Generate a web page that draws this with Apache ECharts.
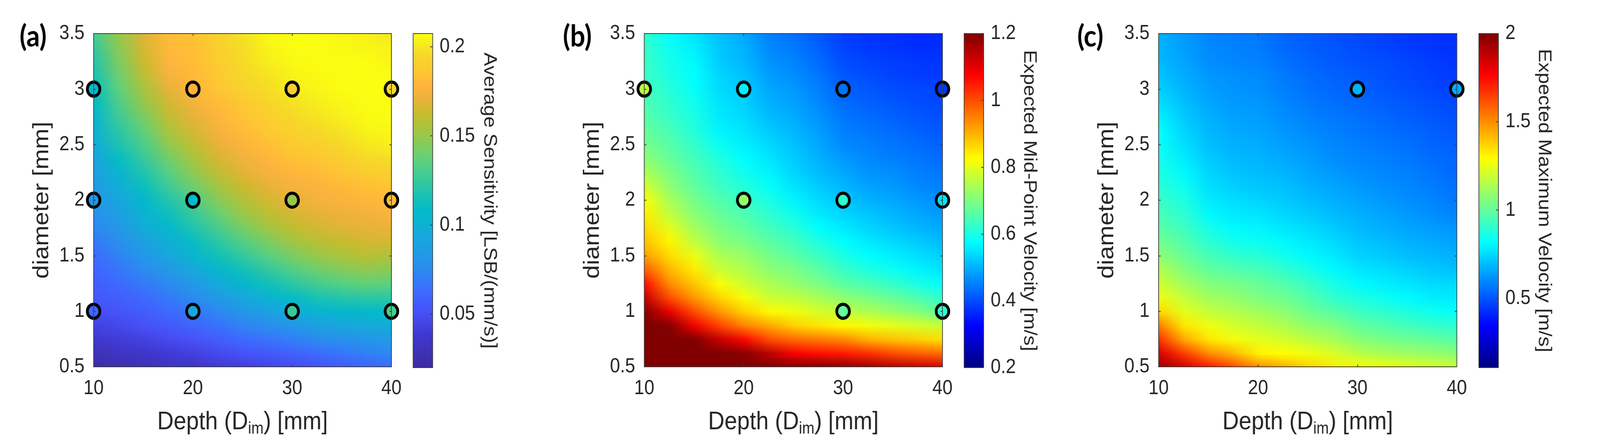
<!DOCTYPE html>
<html><head><meta charset="utf-8">
<style>html,body{margin:0;padding:0;background:#fff;overflow:hidden}#c{width:4582px;height:1148px;transform-origin:0 0}</style>
<script src="https://cdn.jsdelivr.net/npm/echarts@6/dist/echarts.min.js"></script>
</head><body><div id="c"></div>
<script>
// Axis samples
const depths = [10,12.5,15,17.5,20,22.5,25,27.5,30,32.5,35,37.5,40];
const diameters = [0.5,0.625,0.75,0.875,1,1.125,1.25,1.375,1.5,1.625,1.75,1.875,2,2.125,2.25,2.375,2.5,2.625,2.75,2.875,3,3.125,3.25,3.375,3.5];

// Values, x1000. One line per depth, diameter rising left to right.
const sensitivityGrid = [
[22,30,38,44,50,54,57,60,63,68,73,78,83,86,89,92,95,100,105,108,112,116,120,125,130],
[26,34,41,47,53,57,62,67,72,77,83,87,92,97,103,110,117,122,127,132,136,140,144,147,150],
[29,36,44,51,57,62,68,75,82,89,96,101,106,112,118,125,131,137,143,149,154,159,163,166,168],
[32,40,48,55,62,68,75,84,92,98,105,112,119,127,134,141,148,155,160,165,170,175,178,180,181],
[35,43,52,60,68,76,84,93,103,110,118,125,132,140,148,154,160,165,170,174,178,180,182,183,184],
[39,48,57,65,74,84,95,105,114,122,130,138,146,153,160,166,171,175,178,181,185,187,189,191,192],
[42,52,62,72,82,93,104,114,124,133,142,150,157,163,169,173,177,181,184,187,192,194,196,197,199],
[45,55,66,77,89,101,113,124,134,143,152,159,165,170,175,178,183,187,190,193,197,199,202,204,206],
[48,59,70,83,96,109,122,133,143,152,160,166,171,175,178,183,188,192,195,198,202,204,206,207,207],
[52,63,75,89,102,116,129,140,150,158,165,170,174,177,181,186,191,195,199,202,205,206,207,207,207],
[56,67,79,92,106,120,134,145,155,162,168,172,176,180,185,190,195,199,203,205,207,207,207,206,205],
[60,71,82,94,107,122,137,148,158,165,170,174,178,183,189,195,200,204,206,207,207,207,207,205,203],
[63,74,85,97,109,122,136,146,156,165,172,176,180,185,191,197,203,205,207,207,207,207,205,203,200]
];
const midVelocityGrid = [
[1200,1200,1200,1200,1195,1130,1060,985,920,885,860,840,820,780,745,715,690,675,660,650,640,635,630,625,620],
[1200,1200,1200,1195,1095,1000,935,895,860,835,800,765,740,715,695,675,660,645,630,620,610,600,595,585,580],
[1200,1200,1200,1085,1000,925,880,845,805,765,735,710,690,670,655,640,625,610,600,590,580,575,570,560,550],
[1200,1200,1130,1010,925,865,820,775,745,715,695,675,655,635,620,605,585,565,555,550,540,535,525,520,515],
[1200,1190,1070,945,870,820,775,750,725,695,670,650,630,610,590,575,560,550,540,530,525,515,505,500,490],
[1200,1140,1000,910,830,775,745,715,690,665,640,620,600,580,565,550,540,525,510,500,490,480,470,460,450],
[1200,1080,970,870,810,765,720,695,665,640,615,590,565,550,535,525,515,505,495,485,475,465,455,445,435],
[1200,1060,955,850,785,740,695,665,635,605,575,555,540,525,510,500,490,480,470,460,450,440,430,420,410],
[1190,1050,940,830,765,715,665,630,600,575,555,535,520,505,490,475,460,450,440,430,420,410,400,390,385],
[1170,1030,900,815,745,695,645,605,575,555,535,520,500,485,470,460,450,440,430,420,410,400,390,380,375],
[1150,1000,885,800,725,675,625,585,560,540,520,505,490,475,465,450,440,430,420,410,400,390,385,375,370],
[1130,980,870,785,705,650,600,565,545,525,505,490,475,460,450,440,430,420,410,400,395,385,380,370,365],
[1110,970,855,770,670,620,575,550,530,510,490,475,465,450,440,430,420,410,400,395,390,380,375,370,365]
];
const maxVelocityGrid = [
[1950,1830,1670,1530,1360,1260,1200,1150,1080,1030,980,950,920,890,870,850,830,820,790,760,730,710,690,680,670],
[1850,1650,1450,1330,1240,1180,1120,1060,1010,970,930,900,870,840,810,780,760,740,720,700,680,665,650,640,630],
[1720,1500,1330,1260,1180,1120,1060,1000,950,900,860,810,780,760,740,720,700,685,670,655,640,625,610,600,590],
[1620,1420,1270,1210,1150,1090,1040,970,910,850,810,780,755,730,710,690,675,660,645,630,620,610,595,585,575],
[1500,1310,1240,1180,1120,1050,1010,950,890,840,800,770,740,715,695,680,665,650,635,625,610,600,585,575,565],
[1440,1290,1210,1140,1080,1020,970,910,850,810,775,745,720,700,680,660,640,625,610,595,580,570,555,540,530],
[1370,1260,1170,1090,1020,970,920,860,810,780,750,720,695,675,655,635,620,600,585,570,555,545,530,520,510],
[1320,1220,1130,1060,980,910,860,810,780,750,720,695,670,650,630,610,595,580,565,550,535,525,510,500,490],
[1280,1160,1070,1000,930,870,810,775,740,715,690,670,650,630,610,595,580,565,550,535,520,510,495,485,475],
[1270,1130,1040,970,900,840,790,755,720,695,670,650,630,610,595,580,565,550,535,520,505,495,485,470,460],
[1240,1110,1020,940,870,810,770,735,700,675,650,630,610,595,580,565,550,535,520,505,490,480,470,455,445],
[1220,1090,1000,915,840,785,750,715,685,660,635,610,590,575,560,545,530,520,505,490,475,465,455,440,435],
[1200,1070,980,895,820,780,750,700,670,645,620,590,565,550,540,530,520,505,490,475,460,450,440,435,430]
];

// Circled measurements: [depth, diameter, value x1000]
const sensitivityPoints = [[10,3,105],[20,3,177],[30,3,190],[40,3,195],[10,2,83],[20,2,107],[30,2,150],[40,2,182],[10,1,60],[20,1,90],[30,1,125],[40,1,130]];
const midVelocityPoints = [[10,3,760],[20,3,560],[30,3,435],[40,3,380],[20,2,720],[30,2,620],[40,2,550],[30,1,670],[40,1,620]];
const maxVelocityPoints = [[30,3,670],[40,3,660]];

// Colorbars
const sensitivityRange = [0.02,0.2074];
const midVelocityRange = [0.2,1.2];
const maxVelocityRange = [0.107,2];
const sensitivityTicks = [0.05,0.1,0.15,0.2];
const midVelocityTicks = [0.2,0.4,0.6,0.8,1,1.2];
const maxVelocityTicks = [0.5,1,1.5,2];
const sensitivityColors = ['#3c2ca0','#4038d0','#4850f8','#3c6cff','#2c8cf0','#18a8dc','#00bcc8','#32c8a0','#5cd27e','#98c84a','#c8bc2c','#e6b23a','#ffb33e','#ffc433','#f5dc28','#fbff10'];
const sensitivityStops = [0,0.1,0.164,0.229,0.294,0.39,0.472,0.553,0.618,0.694,0.76,0.8,0.839,0.878,0.943,1];
const jetColors = ['#000080','#0000ff','#00ffff','#ffff00','#ff0000','#800000'];
const jetStops = [0,0.125,0.375,0.625,0.875,1];

// Titles
const panelLabels = ['(a)','(b)','(c)'];
const colorbarTitles = ['Average Sensitivity [LSB/(mm/s)]','Expected Mid-Point Velocity [m/s]','Expected Maximum Velocity [m/s]'];
const xTitle = '{t|Depth (D}{s|im}{t|) [mm]}';
const yTitle = 'diameter [mm]';

// Layout
const plotTop = 86, plotH = 854, barTop = 86, barH = 856, barW = 56;
const panels = [
 {grid:sensitivityGrid, pts:sensitivityPoints, range:sensitivityRange, ticks:sensitivityTicks, colors:sensitivityColors, stops:sensitivityStops, left:268, width:853, barLeft:1183, labelLeft:56, nameGap:136},
 {grid:midVelocityGrid, pts:midVelocityPoints, range:midVelocityRange, ticks:midVelocityTicks, colors:jetColors, stops:jetStops, left:1845, width:854, barLeft:2761, labelLeft:1612, nameGap:104},
 {grid:maxVelocityGrid, pts:maxVelocityPoints, range:maxVelocityRange, ticks:maxVelocityTicks, colors:jetColors, stops:jetStops, left:3318, width:854, barLeft:4235, labelLeft:3085, nameGap:104}
];

const FONT = 'Liberation Sans', INK = '#262626', EDGE = '#3a3a3a';
const box = document.getElementById('c');
// The browser may open narrower than the 4582 px figure: fit the figure's width to the window.
if (window.innerWidth < 4582) box.style.transform = 'scaleX(' + (window.innerWidth/4582) + ')';
const chart = echarts.init(box, null, {renderer:'canvas', width:4582, height:1148});
const opt = {animation:false, backgroundColor:'#fff', title:[], grid:[], xAxis:[], yAxis:[], series:[], visualMap:[]};

// visualMap colour lists are evenly spaced; sample the colorbar's stops onto such a list
function denseRamp(colors, stops){
  const out = [], N = 128;
  for (let i=0;i<=N;i++){
    const f = i/N; let k = 0;
    while (k < stops.length-2 && f > stops[k+1]) k++;
    out.push(echarts.color.lerp((f-stops[k])/(stops[k+1]-stops[k]), [colors[k], colors[k+1]]));
  }
  return out;
}
function plainAxis(extra){
  return Object.assign({type:'value', z:5, silent:true, splitLine:{show:false}, axisLabel:{show:false},
    axisLine:{show:true, onZero:false, lineStyle:{color:EDGE, width:2}},
    axisTick:{show:true, inside:true, length:6, lineStyle:{color:EDGE, width:2}}}, extra);
}

panels.forEach((p, k) => {
  const gi = opt.grid.length;
  opt.grid.push({left:p.left, top:plotTop, width:p.width, height:plotH});
  opt.grid.push({left:p.barLeft, top:barTop, width:barW, height:barH});
  const xi = opt.xAxis.length, yi = opt.yAxis.length;

  opt.xAxis.push(plainAxis({gridIndex:gi, min:10, max:40, interval:10, position:'bottom',
    name:xTitle, nameLocation:'middle', nameGap:104,
    nameTextStyle:{rich:{t:{fontFamily:FONT, fontSize:65, color:INK}, s:{fontFamily:FONT, fontSize:42, color:INK, padding:[34,0,0,0]}}},
    axisLabel:{show:true, fontFamily:FONT, fontSize:52, color:INK, margin:30}}));
  opt.xAxis.push(plainAxis({gridIndex:gi, min:10, max:40, interval:10, position:'top'}));
  opt.yAxis.push(plainAxis({gridIndex:gi, min:0.5, max:3.5, interval:0.5, position:'left',
    name:yTitle, nameLocation:'middle', nameGap:116, nameRotate:90,
    nameTextStyle:{fontFamily:FONT, fontSize:63, color:INK},
    axisLabel:{show:true, fontFamily:FONT, fontSize:52, color:INK, margin:26, padding:[12,0,0,0]}}));
  opt.yAxis.push(plainAxis({gridIndex:gi, min:0.5, max:3.5, interval:0.5, position:'right'}));

  const bar = {type:'value', silent:true, z:6, splitLine:{show:false}, axisTick:{show:false}, axisLabel:{show:false},
    axisLine:{show:true, onZero:false, lineStyle:{color:EDGE, width:2}}};
  opt.xAxis.push(Object.assign({}, bar, {gridIndex:gi+1, min:0, max:1, position:'bottom'}));
  opt.xAxis.push(Object.assign({}, bar, {gridIndex:gi+1, min:0, max:1, position:'top'}));
  opt.yAxis.push(Object.assign({}, bar, {gridIndex:gi+1, min:p.range[0], max:p.range[1], position:'left'}));
  opt.yAxis.push(Object.assign({}, bar, {gridIndex:gi+1, min:p.range[0], max:p.range[1], position:'right',
    name:colorbarTitles[k], nameLocation:'middle', nameRotate:-90, nameGap:p.nameGap,
    nameTextStyle:{fontFamily:FONT, fontSize:52, color:INK},
    axisTick:{show:true, inside:true, length:7, customValues:p.ticks, lineStyle:{color:EDGE, width:2}},
    axisLabel:{show:true, fontFamily:FONT, fontSize:52, color:INK, margin:20, customValues:p.ticks, showMinLabel:true, showMaxLabel:true}}));

  const cols = depths.length, rows = diameters.length;
  const cv = document.createElement('canvas'); cv.width = cols; cv.height = rows;
  const g = cv.getContext('2d');
  const cells = [];
  depths.forEach((d, i) => diameters.forEach((m, j) => cells.push([d, m, p.grid[i][j]/1000])));
  const si = opt.series.length;
  opt.series.push({type:'custom', xAxisIndex:xi, yAxisIndex:yi, z:2, silent:true, data:cells, encode:{x:0, y:1},
    renderItem(params, api){
      const n = params.dataIndex, c = Math.floor(n/rows), r = n % rows;
      g.fillStyle = api.visual('color');
      g.fillRect(c, rows-1-r, 1, 1);
      if (n < cells.length-1) return null;
      const a = api.coord([depths[0], diameters[rows-1]]), b = api.coord([depths[cols-1], diameters[0]]);
      return {type:'image', silent:true, style:{image:cv, x:a[0], y:a[1], width:b[0]-a[0], height:b[1]-a[1], sx:0.5, sy:0.5, sWidth:cols-1, sHeight:rows-1}};
    }});
  opt.series.push({type:'scatter', xAxisIndex:xi, yAxisIndex:yi, z:3, clip:false, silent:true, symbol:'circle', symbolSize:36,
    data:p.pts.map(q => [q[0], q[1], q[2]/1000]), itemStyle:{borderColor:'#000', borderWidth:8, opacity:1}});

  opt.visualMap.push({type:'continuous', seriesIndex:[si, si+1], dimension:2, min:p.range[0], max:p.range[1],
    calculable:false, hoverLink:false, orient:'vertical', left:p.barLeft, top:barTop, itemWidth:barW, itemHeight:barH, padding:0, z:4,
    text:null, showLabel:false,
    inRange:{color:denseRamp(p.colors, p.stops)}});
  opt.title.push({text:panelLabels[k], left:p.labelLeft, top:56, padding:0, textStyle:{fontFamily:'Lato', fontWeight:'bold', fontSize:76, color:'#000'}});
});

chart.setOption(opt);
</script></body></html>
